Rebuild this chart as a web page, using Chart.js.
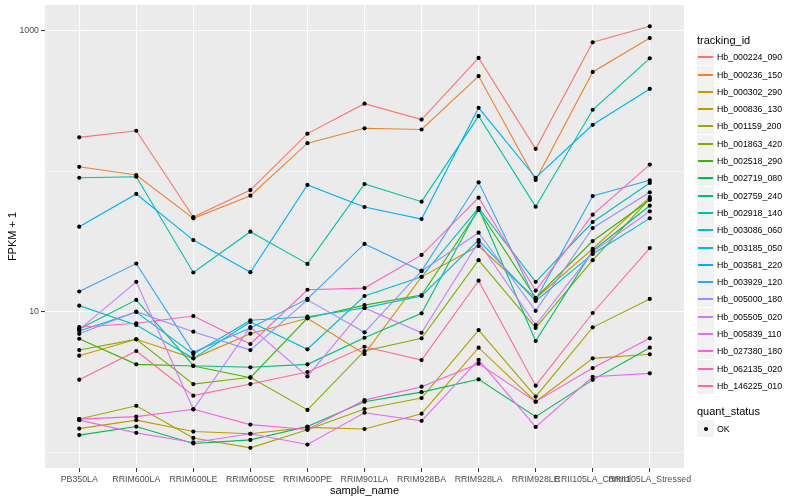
<!DOCTYPE html>
<html>
<head>
<meta charset="utf-8">
<script src="https://cdn.jsdelivr.net/npm/chart.js@4.4.1/dist/chart.umd.min.js"></script>
<style>
  body { margin: 0; background: #fff; font-family: "Liberation Sans", Arial, sans-serif; }
  #wrap { position: relative; width: 800px; height: 500px; }
  #chart { position: absolute; left: 0; top: 0; }
  .lg-title { position: absolute; left: 697px; font-size: 11px; line-height: 12px; color: #000; white-space: nowrap; }
  .lg-row { position: absolute; left: 697px; height: 17px; display: flex; align-items: center; font-size: 8.8px; color: #000; white-space: nowrap; }
  .lg-key { position: relative; width: 17px; height: 17px; background: #F2F2F2; margin-right: 3px; flex: none; }
  .lg-line { position: absolute; left: 1px; width: 15px; top: 8px; height: 1.5px; }
  .lg-dot { position: absolute; left: 6.5px; top: 6.5px; width: 4px; height: 4px; border-radius: 50%; background: #000; }
</style>
</head>
<body>
<div id="wrap">
  <canvas id="chart" width="800" height="500"></canvas>
</div>
<script>
// kategori sumbu x
const sampleNames = ['PB350LA', 'RRIM600LA', 'RRIM600LE', 'RRIM600SE', 'RRIM600PE', 'RRIM901LA',
  'RRIM928BA', 'RRIM928LA', 'RRIM928LE', 'RRII105LA_Control', 'RRII105LA_Stressed'];

const trackingIds = ['Hb_000224_090', 'Hb_000236_150', 'Hb_000302_290', 'Hb_000836_130', 'Hb_001159_200',
  'Hb_001863_420', 'Hb_002518_290', 'Hb_002719_080', 'Hb_002759_240', 'Hb_002918_140',
  'Hb_003086_060', 'Hb_003185_050', 'Hb_003581_220', 'Hb_003929_120', 'Hb_005000_180',
  'Hb_005505_020', 'Hb_005839_110', 'Hb_027380_180', 'Hb_062135_020', 'Hb_146225_010'];

const lineColors = ['#F8766D', '#EA8331', '#D89000', '#C09B00', '#A3A500', '#7CAE00', '#39B600', '#00BB4E',
  '#00BF7D', '#00C1A3', '#00BFC4', '#00BAE0', '#00B0F6', '#35A2FF', '#9590FF', '#C77CFF',
  '#E76BF3', '#FA62DB', '#FF62BC', '#FF6C91'];

// FPKM + 1 per sampel
const hb_000224_090 = [175, 195, 47.4, 73.8, 186, 304, 234, 643, 145, 831, 1080];
const hb_000236_150 = [108, 94.4, 46.4, 67.3, 159, 203, 199, 478, 87, 511, 891];
const hb_000302_290 = [4.89, 6.39, 4.68, 7.01, 9.02, 5.02, 17.8, 29.5, 12.5, 28.2, 65.8];
const hb_000836_130 = [1.48, 1.70, 1.41, 1.36, 1.51, 1.47, 1.89, 5.57, 2.30, 4.68, 5.00];
const hb_001159_200 = [1.73, 2.15, 1.27, 1.08, 1.45, 2.04, 2.44, 7.44, 2.50, 7.78, 12.4];
const hb_001863_420 = [5.36, 6.39, 3.07, 3.43, 2.01, 5.28, 6.50, 23.4, 7.7, 23.4, 64];
const hb_002518_290 = [6.45, 4.24, 4.13, 3.41, 9.06, 11.2, 13.2, 53.2, 12.6, 32.0, 62.7];
const hb_002719_080 = [1.33, 1.53, 1.16, 1.23, 1.53, 2.30, 2.69, 3.32, 1.80, 3.29, 5.57];
const hb_002759_240 = [7.57, 12.2, 4.15, 4.04, 4.24, 6.56, 9.79, 55.0, 6.22, 27.3, 57.1];
const hb_002918_140 = [90.3, 91.8, 19.1, 37.3, 22.0, 81.5, 61.0, 248, 56.2, 275, 639];
const hb_003086_060 = [11.1, 8.08, 4.68, 8.49, 5.43, 13.0, 17.8, 55.0, 16.4, 43.7, 82.8];
const hb_003185_050 = [7.32, 10.0, 5.02, 8.73, 9.26, 10.7, 13.0, 32.5, 12.0, 25.9, 46.4];
const hb_003581_220 = [40.5, 69.2, 32.5, 19.2, 80.2, 55.9, 45.9, 284, 90.3, 215, 387];
const hb_003929_120 = [14.0, 22.1, 5.17, 7.69, 12.4, 30.5, 19.6, 83.8, 12.2, 66.9, 86.6];
const hb_005000_180 = [7.0, 10.05, 7.24, 5.36, 12.2, 7.17, 19.6, 36.7, 10.2, 39.6, 71.1];
const hb_005505_020 = [7.5, 16.4, 2.03, 7.82, 3.48, 10.7, 7.12, 31.5, 8.08, 26.7, 52.1];
const hb_005839_110 = [1.70, 1.38, 1.18, 1.36, 1.14, 1.92, 1.68, 4.57, 1.52, 3.46, 3.66];
const hb_027380_180 = [1.73, 1.80, 2.03, 1.58, 1.46, 2.36, 2.94, 4.29, 2.30, 3.99, 6.50];
const hb_062135_020 = [7.8, 8.31, 9.37, 5.92, 14.4, 14.8, 25.5, 65.1, 14.2, 49.3, 112];
const hb_146225_010 = [3.30, 5.28, 2.54, 3.07, 3.74, 5.66, 4.55, 16.7, 2.99, 9.84, 28.5];

const seriesValues = [hb_000224_090, hb_000236_150, hb_000302_290, hb_000836_130, hb_001159_200,
  hb_001863_420, hb_002518_290, hb_002719_080, hb_002759_240, hb_002918_140,
  hb_003086_060, hb_003185_050, hb_003581_220, hb_003929_120, hb_005000_180,
  hb_005505_020, hb_005839_110, hb_027380_180, hb_062135_020, hb_146225_010];

const yMajorTicks = [10, 1000];
const yMinorTicks = [1, 100];
const statusLabels = ['OK'];

// garis dulu, titik hitam paling atas
const datasets = trackingIds.map((id, i) => ({
  label: id,
  data: seriesValues[i].map((v, j) => ({ x: j, y: v })),
  borderColor: lineColors[i],
  borderWidth: 1.1,
  pointRadius: 0,
  fill: false,
  tension: 0,
  order: 40 - i
}));
datasets.push({
  label: statusLabels[0],
  data: seriesValues.flatMap(vals => vals.map((v, j) => ({ x: j, y: v }))),
  showLine: false,
  pointRadius: 2.1,
  pointBackgroundColor: '#000',
  pointBorderWidth: 0,
  order: 0
});

const panelBg = {
  id: 'panelBg',
  beforeDraw(chart) {
    const { ctx, chartArea: a } = chart;
    ctx.save();
    ctx.fillStyle = '#EBEBEB';
    ctx.fillRect(a.left, a.top, a.right - a.left, a.bottom - a.top);
    ctx.restore();
  }
};

Chart.defaults.font.family = '"Liberation Sans", Arial, sans-serif';

new Chart(document.getElementById('chart').getContext('2d'), {
  type: 'line',
  data: { datasets: datasets },
  plugins: [panelBg],
  options: {
    responsive: false,
    animation: false,
    layout: { padding: { top: 5, right: 116, left: 0, bottom: 0 } },
    plugins: { legend: { display: false }, tooltip: { enabled: false } },
    scales: {
      x: {
        type: 'linear',
        min: -0.6,
        max: 10.6,
        afterBuildTicks: s => { s.ticks = sampleNames.map((_, i) => ({ value: i })); },
        afterFit: s => { s.height = 32; s.paddingLeft = 0; s.paddingRight = 0; },
        ticks: {
          autoSkip: false, maxRotation: 0, minRotation: 0, padding: 2,
          color: '#4D4D4D', font: { size: 8.8 },
          callback: v => sampleNames[v]
        },
        grid: { color: '#FFFFFF', lineWidth: 1.1, tickLength: 4, tickColor: '#333333', tickWidth: 1 },
        border: { display: false },
        title: { display: true, text: 'sample_name', color: '#000', font: { size: 11 }, padding: { top: 0, bottom: 2 } }
      },
      y: {
        type: 'logarithmic',
        min: 0.776,
        max: 1531,
        afterBuildTicks: s => { s.ticks = yMinorTicks.concat(yMajorTicks).sort((a, b) => a - b).map(v => ({ value: v })); },
        afterFit: s => { s.width = 45; s.paddingTop = 0; s.paddingBottom = 0; },
        ticks: {
          autoSkip: false, padding: 2, color: '#4D4D4D', font: { size: 8.8 },
          callback: v => yMajorTicks.includes(v) ? String(v) : ''
        },
        grid: {
          color: '#FFFFFF',
          lineWidth: c => yMajorTicks.includes(c.tick.value) ? 1.1 : 0.55,
          tickLength: 4,
          tickColor: c => yMajorTicks.includes(c.tick.value) ? '#333333' : 'rgba(0,0,0,0)',
          tickWidth: 1
        },
        border: { display: false },
        title: { display: true, text: 'FPKM + 1', color: '#000', font: { size: 11 }, padding: { top: 6, bottom: 0 } }
      }
    }
  }
});

// legenda di kanan (gaya ggplot)
const wrap = document.getElementById('wrap');
function addTitle(text, top) {
  const d = document.createElement('div');
  d.className = 'lg-title';
  d.style.top = top + 'px';
  d.textContent = text;
  wrap.appendChild(d);
}
function addRow(text, top, color) {
  const row = document.createElement('div');
  row.className = 'lg-row';
  row.style.top = Math.round(top) + 'px';
  const key = document.createElement('div');
  key.className = 'lg-key';
  const mark = document.createElement('div');
  if (color) { mark.className = 'lg-line'; mark.style.background = color; }
  else { mark.className = 'lg-dot'; }
  key.appendChild(mark);
  row.appendChild(key);
  const span = document.createElement('span');
  span.textContent = text;
  row.appendChild(span);
  wrap.appendChild(row);
}
addTitle('tracking_id', 34);
trackingIds.forEach((id, i) => addRow(id, 48.2 + i * 17.3, lineColors[i]));
addTitle('quant_status', 405);
statusLabels.forEach((s, i) => addRow(s, 419.5 + i * 17.3, null));
</script>
</body>
</html>
